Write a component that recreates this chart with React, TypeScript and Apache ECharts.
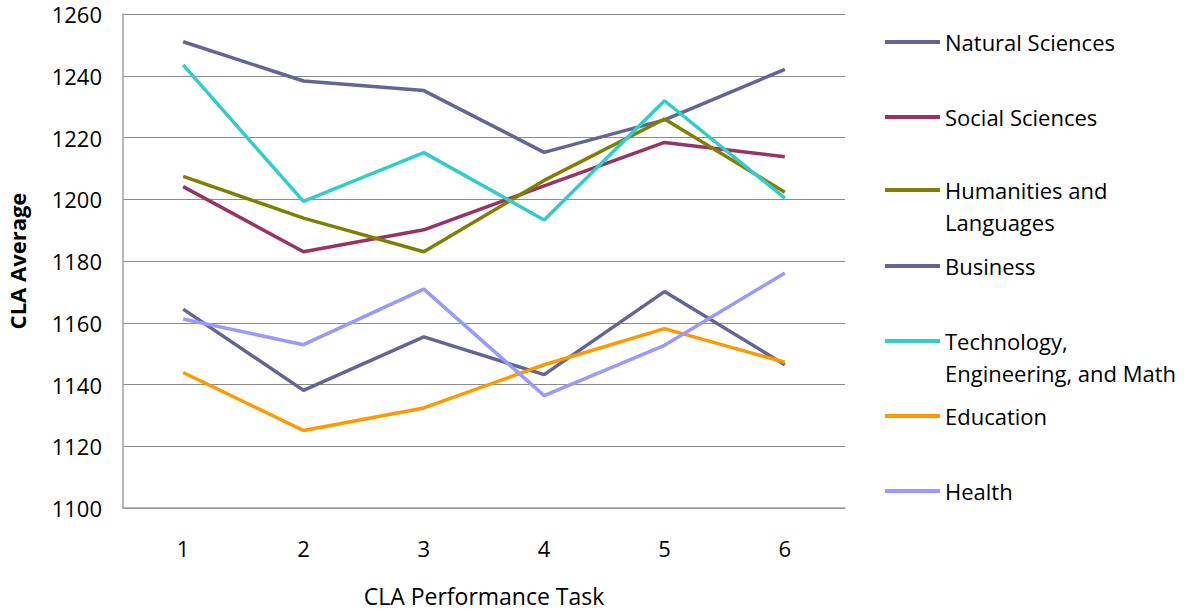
import React, { useEffect, useRef } from "react";
import * as echarts from "echarts";

const categories = ["1", "2", "3", "4", "5", "6"];
const seriesNames = [
  "Natural Sciences",
  "Social Sciences",
  "Humanities and Languages",
  "Business",
  "Technology, Engineering, and Math",
  "Education",
  "Health",
];
const legendLabels = [
  "Natural Sciences",
  "Social Sciences",
  "Humanities and\nLanguages",
  "Business",
  "Technology,\nEngineering, and Math",
  "Education",
  "Health",
];
const naturalSciences = [1251, 1238.3, 1235.2, 1215.2, 1225.7, 1242.1];
const socialSciences = [1204.1, 1183, 1190.1, 1204.3, 1218.4, 1213.8];
const humanities = [1207.4, 1193.9, 1183, 1206.1, 1226, 1202.3];
const business = [1164.4, 1138.1, 1155.4, 1143.2, 1170.1, 1146.4];
const technology = [1243.5, 1199.3, 1215.1, 1193.3, 1231.9, 1200.4];
const education = [1143.9, 1125.1, 1132.4, 1146.4, 1158.1, 1147.2];
const health = [1161.2, 1152.9, 1170.9, 1136.4, 1152.7, 1176.1];
const allData = [naturalSciences, socialSciences, humanities, business, technology, education, health];
const colors = ["#646497", "#993366", "#808000", "#646497", "#33CCCC", "#FF9900", "#9999FF"];
const legendCenters = [42, 117, 190, 266, 341, 416, 491];
const FONT = "'Open Sans', Lato, sans-serif";

export default function App() {
  const ref = useRef<HTMLDivElement>(null);
  useEffect(() => {
    if (!ref.current) return;
    const chart = echarts.init(ref.current, null, { renderer: "svg" });
    const legends = seriesNames.map((name, i) => {
      const twoLine = legendLabels[i].includes("\n");
      const boxHalf = twoLine ? 48 : 16;
      return {
        data: [name],
        left: 885,
        top: legendCenters[i] - boxHalf,
        orient: "vertical",
        icon: "rect",
        itemWidth: 55,
        itemHeight: 4,
        padding: 0,
        selectedMode: false,
        formatter: () => (twoLine ? "\n" + legendLabels[i] : legendLabels[i]),
        textStyle: {
          fontFamily: FONT,
          fontSize: 22,
          color: "#000",
          lineHeight: 32,
        },
      };
    });
    chart.setOption({
      animation: false,
      backgroundColor: "#fff",
      grid: { left: 123, right: 350, top: 14, bottom: 103, containLabel: false, outerBoundsMode: "none" },
      legend: legends,
      xAxis: {
        type: "category",
        data: categories,
        boundaryGap: true,
        name: "CLA Performance Task",
        nameLocation: "middle",
        nameGap: 76,
        nameTextStyle: { fontFamily: FONT, fontSize: 23, color: "#000" },
        axisLine: { lineStyle: { color: "#a0a0a0", width: 1.5 } },
        axisTick: { show: false },
        axisLabel: { fontFamily: FONT, fontSize: 22, color: "#000", margin: 29 },
      },
      yAxis: {
        type: "value",
        min: 1100,
        max: 1260,
        interval: 20,
        name: "CLA Average",
        nameLocation: "middle",
        nameGap: 95,
        nameTextStyle: { fontFamily: FONT, fontSize: 22, fontWeight: "bold", color: "#000" },
        axisLine: { show: true, lineStyle: { color: "#a0a0a0", width: 1.5 } },
        axisTick: { show: false },
        axisLabel: {
          fontFamily: FONT,
          fontSize: 22,
          color: "#000",
          margin: 21,
          formatter: (v: number) => String(v),
        },
        splitLine: { lineStyle: { color: "#8c8c8c", width: 1.2 } },
      },
      series: seriesNames.map((name, i) => ({
        name,
        type: "line",
        data: allData[i],
        symbol: "none",
        lineStyle: { color: colors[i], width: 3.5 },
        itemStyle: { color: colors[i] },
      })),
    });
    return () => chart.dispose();
  }, []);
  return <div ref={ref} style={{ width: 1195, height: 611, position: "absolute", left: 0, top: 0 }} />;
}
